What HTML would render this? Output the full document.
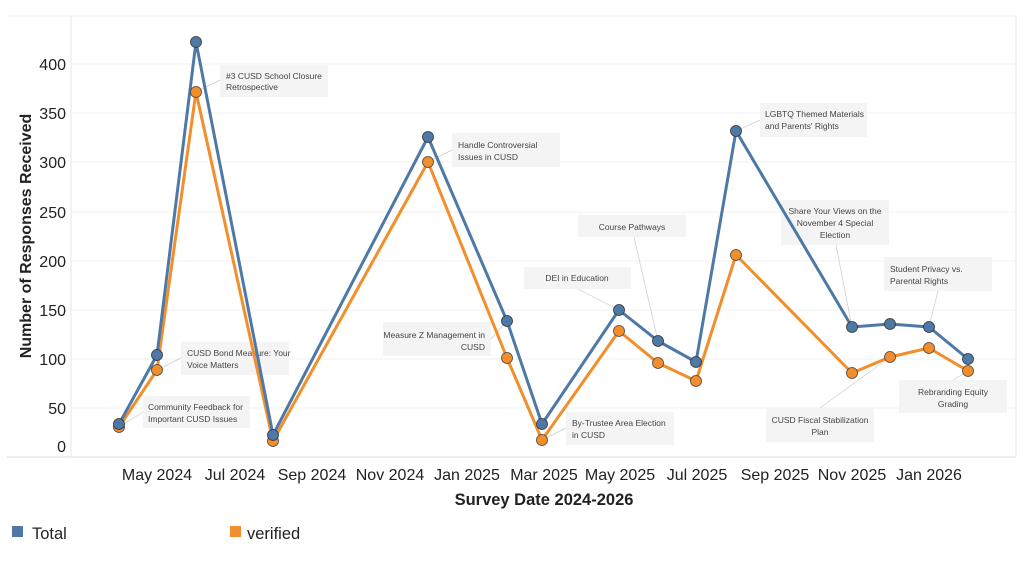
<!DOCTYPE html>
<html><head><meta charset="utf-8"><style>
body{margin:0;background:#fff;width:1024px;height:573px;overflow:hidden}
svg{font-family:"Liberation Sans",sans-serif}
.a{font-size:8.5px;fill:#444}
.t{font-size:16px;fill:#222}
</style></head><body>
<svg width="1024" height="573" viewBox="0 0 1024 573">
<g stroke="#f2f2f2" stroke-width="1">
<line x1="7" y1="16" x2="1016" y2="16"/>
<line x1="71" y1="408" x2="1016" y2="408"/><line x1="71" y1="359" x2="1016" y2="359"/>
<line x1="71" y1="310" x2="1016" y2="310"/><line x1="71" y1="261" x2="1016" y2="261"/>
<line x1="71" y1="212" x2="1016" y2="212"/><line x1="71" y1="162" x2="1016" y2="162"/>
<line x1="71" y1="113" x2="1016" y2="113"/><line x1="71" y1="64" x2="1016" y2="64"/>
</g>
<line x1="71" y1="16" x2="71" y2="457" stroke="#e6e6e6"/>
<line x1="1016" y1="16" x2="1016" y2="457" stroke="#e6e6e6"/>
<line x1="7" y1="457" x2="1016" y2="457" stroke="#ddd"/>
<g class="t" text-anchor="end">
<text x="66" y="452">0</text><text x="66" y="414">50</text><text x="66" y="365">100</text>
<text x="66" y="316">150</text><text x="66" y="267">200</text><text x="66" y="218">250</text>
<text x="66" y="168">300</text><text x="66" y="119">350</text><text x="66" y="70">400</text>
</g>
<text transform="translate(31,236) rotate(-90)" text-anchor="middle" font-size="16" font-weight="bold" fill="#222">Number of Responses Received</text>
<g class="t" text-anchor="middle">
<text x="157" y="480">May 2024</text><text x="235" y="480">Jul 2024</text><text x="312" y="480">Sep 2024</text>
<text x="390" y="480">Nov 2024</text><text x="467" y="480">Jan 2025</text><text x="544" y="480">Mar 2025</text>
<text x="620" y="480">May 2025</text><text x="697" y="480">Jul 2025</text><text x="775" y="480">Sep 2025</text>
<text x="852" y="480">Nov 2025</text><text x="929" y="480">Jan 2026</text>
</g>
<text x="544" y="505" text-anchor="middle" font-size="16.5" font-weight="bold" fill="#222">Survey Date 2024-2026</text>
<rect x="12" y="526" width="11" height="11" fill="#4e79a7"/><text x="32" y="539" font-size="16.5" fill="#222">Total</text>
<rect x="230" y="526" width="11" height="11" fill="#f28e2b"/><text x="247" y="539" font-size="16.5" fill="#222">verified</text>
<g fill="#f4f4f4">
<rect x="220" y="65" width="108" height="32"/><rect x="181" y="342" width="108" height="33"/>
<rect x="143" y="396" width="107" height="32"/><rect x="452" y="133" width="108" height="34"/>
<rect x="383" y="322" width="108" height="34"/><rect x="578" y="215" width="108" height="22"/>
<rect x="524" y="267" width="107" height="22"/><rect x="566" y="412" width="108" height="33"/>
<rect x="760" y="103" width="107" height="34"/><rect x="781" y="200" width="108" height="45"/>
<rect x="884" y="257" width="108" height="34"/><rect x="899" y="380" width="108" height="33"/>
<rect x="766" y="408" width="108" height="34"/>
</g>
<g stroke="#ccc" stroke-width="0.7">
<line x1="196" y1="92" x2="220" y2="80"/><line x1="157" y1="370" x2="181" y2="358"/>
<line x1="119" y1="427" x2="143" y2="412"/><line x1="428" y1="162" x2="452" y2="150"/>
<line x1="507" y1="321" x2="491" y2="339"/><line x1="658" y1="341" x2="634" y2="237"/>
<line x1="619" y1="310" x2="578" y2="289"/><line x1="542" y1="440" x2="566" y2="428"/>
<line x1="736" y1="131" x2="760" y2="120"/><line x1="852" y1="327" x2="836" y2="245"/>
<line x1="929" y1="327" x2="938" y2="291"/><line x1="968" y1="371" x2="953" y2="380"/>
<line x1="890" y1="357" x2="820" y2="408"/>
</g>
<g class="a">
<text x="226" y="79">#3 CUSD School Closure</text><text x="226" y="90">Retrospective</text>
<text x="187" y="356">CUSD Bond Measure: Your</text><text x="187" y="368">Voice Matters</text>
<text x="148" y="410">Community Feedback for</text><text x="148" y="422">Important CUSD Issues</text>
<text x="458" y="148">Handle Controversial</text><text x="458" y="160">Issues in CUSD</text>
<text x="485" y="338" text-anchor="end">Measure Z Management in</text><text x="485" y="350" text-anchor="end">CUSD</text>
<text x="632" y="230" text-anchor="middle">Course Pathways</text>
<text x="577" y="281" text-anchor="middle">DEI in Education</text>
<text x="572" y="426">By-Trustee Area Election</text><text x="572" y="438">in CUSD</text>
<text x="765" y="117">LGBTQ Themed Materials</text><text x="765" y="129">and Parents' Rights</text>
<text x="835" y="214" text-anchor="middle">Share Your Views on the</text><text x="835" y="226" text-anchor="middle">November 4 Special</text><text x="835" y="238" text-anchor="middle">Election</text>
<text x="890" y="272">Student Privacy vs.</text><text x="890" y="284">Parental Rights</text>
<text x="953" y="395" text-anchor="middle">Rebranding Equity</text><text x="953" y="407" text-anchor="middle">Grading</text>
<text x="820" y="423" text-anchor="middle">CUSD Fiscal Stabilization</text><text x="820" y="435" text-anchor="middle">Plan</text>
</g>
<polyline fill="none" stroke="#f28e2b" stroke-width="3" stroke-linejoin="round" points="119,427 157,370 196,92 273,441 428,162 507,358 542,440 619,331 658,363 696,381 736,255 852,373 890,357 929,348 968,371"/>
<polyline fill="none" stroke="#4e79a7" stroke-width="3" stroke-linejoin="round" points="119,424 157,355 196,42 273,435 428,137 507,321 542,424 619,310 658,341 696,362 736,131 852,327 890,324 929,327 968,359"/>
<g fill="#f28e2b" stroke="#444" stroke-width="0.8">
<circle cx="119" cy="427" r="5.5"/><circle cx="157" cy="370" r="5.5"/><circle cx="196" cy="92" r="5.5"/><circle cx="273" cy="441" r="5.5"/><circle cx="428" cy="162" r="5.5"/><circle cx="507" cy="358" r="5.5"/><circle cx="542" cy="440" r="5.5"/><circle cx="619" cy="331" r="5.5"/><circle cx="658" cy="363" r="5.5"/><circle cx="696" cy="381" r="5.5"/><circle cx="736" cy="255" r="5.5"/><circle cx="852" cy="373" r="5.5"/><circle cx="890" cy="357" r="5.5"/><circle cx="929" cy="348" r="5.5"/><circle cx="968" cy="371" r="5.5"/>
</g>
<g fill="#4e79a7" stroke="#333" stroke-width="0.8">
<circle cx="119" cy="424" r="5.5"/><circle cx="157" cy="355" r="5.5"/><circle cx="196" cy="42" r="5.5"/><circle cx="273" cy="435" r="5.5"/><circle cx="428" cy="137" r="5.5"/><circle cx="507" cy="321" r="5.5"/><circle cx="542" cy="424" r="5.5"/><circle cx="619" cy="310" r="5.5"/><circle cx="658" cy="341" r="5.5"/><circle cx="696" cy="362" r="5.5"/><circle cx="736" cy="131" r="5.5"/><circle cx="852" cy="327" r="5.5"/><circle cx="890" cy="324" r="5.5"/><circle cx="929" cy="327" r="5.5"/><circle cx="968" cy="359" r="5.5"/>
</g>
</svg>
</body></html>
